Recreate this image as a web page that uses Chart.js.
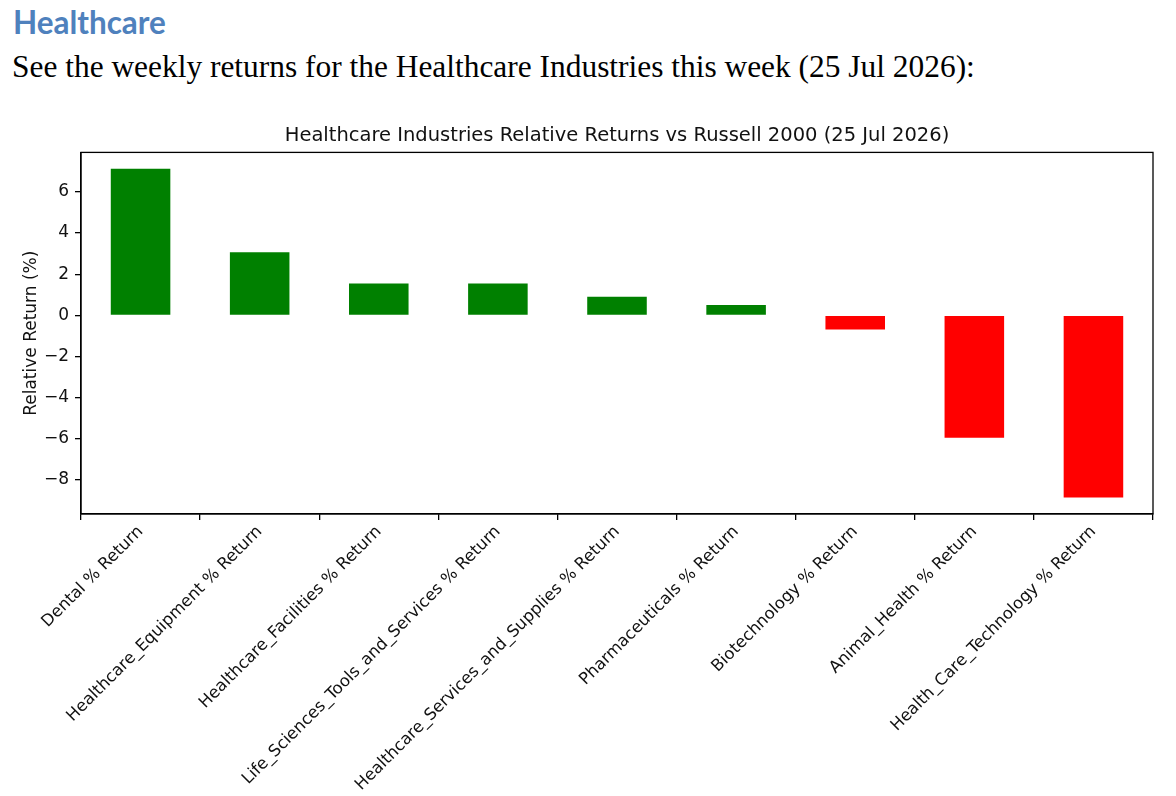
<!DOCTYPE html>
<html><head><meta charset="utf-8">
<script src="https://cdn.jsdelivr.net/npm/chart.js@4"></script>
<style>
html,body{margin:0;padding:0;background:#fff;width:1176px;height:796px;overflow:hidden;}
#h1{position:absolute;left:13px;top:7px;font-family:Lato;font-weight:bold;font-size:31px;line-height:1;color:#4f81bd;white-space:nowrap;}
#sub{position:absolute;left:12px;top:54px;font-family:'Liberation Serif';font-size:28px;line-height:1;color:#000;white-space:nowrap;}
#wrap{position:absolute;left:0;top:115px;width:1176px;height:681px;}
</style></head><body>
<div id="h1">Healthcare</div>
<div id="sub">See the weekly returns for the Healthcare Industries this week (25 Jul 2026):</div>
<div id="wrap"><canvas id="c"></canvas></div>
<script>
const categories = [
  "Dental % Return",
  "Healthcare_Equipment % Return",
  "Healthcare_Facilities % Return",
  "Life_Sciences_Tools_and_Services % Return",
  "Healthcare_Services_and_Supplies % Return",
  "Pharmaceuticals % Return",
  "Biotechnology % Return",
  "Animal_Health % Return",
  "Health_Care_Technology % Return"
];
const relativeReturns = [7.12, 3.07, 1.55, 1.55, 0.91, 0.50, -0.69, -5.94, -8.85];
const yTickValues = [6, 4, 2, 0, -2, -4, -6, -8];
const chartTitle = "Healthcare Industries Relative Returns vs Russell 2000 (25 Jul 2026)";
const yAxisTitle = "Relative Return (%)";

// fit header text widths
function fit(id, targetW, baseline, ascFactor) {
  const el = document.getElementById(id);
  const fs = parseFloat(getComputedStyle(el).fontSize);
  const w = el.getBoundingClientRect().width;
  const nfs = fs * targetW / w;
  el.style.fontSize = nfs + 'px';
  el.style.top = (baseline - ascFactor * nfs) + 'px';
}
fit('sub', 963, 77, 0.8375);
fit('h1', 153, 35, 0.887);

const frame = {
  id: 'frame',
  afterDraw(chart) {
    const a = chart.chartArea, ctx = chart.ctx;
    ctx.save();
    ctx.strokeStyle = '#000';
    ctx.lineWidth = 1.3;
    ctx.strokeRect(a.left, a.top, a.right - a.left, a.bottom - a.top);
    ctx.restore();
  }
};

new Chart(document.getElementById('c'), {
  type: 'bar',
  data: {
    labels: categories,
    datasets: [{
      data: relativeReturns,
      backgroundColor: relativeReturns.map(v => v >= 0 ? '#008000' : '#ff0000'),
      borderWidth: 0,
      categoryPercentage: 0.5,
      barPercentage: 1.0
    }]
  },
  options: {
    responsive: true,
    maintainAspectRatio: false,
    animation: false,
    layout: { padding: { left: 0, right: 23, top: 0, bottom: 0 } },
    plugins: {
      legend: { display: false },
      tooltip: { enabled: false },
      title: {
        display: true,
        fullSize: false,
        text: chartTitle,
        color: '#111',
        font: { family: 'DejaVu Sans', size: 19.5, weight: 'normal' },
        padding: { top: 9, bottom: 5 }
      }
    },
    scales: {
      x: {
        offset: true,
        grid: { display: true, drawOnChartArea: false, drawTicks: true, tickLength: 6, color: '#000', lineWidth: 1.3 },
        border: { display: true, color: '#000', width: 1.3 },
        ticks: {
          color: '#111',
          font: { family: 'DejaVu Sans', size: 16.5 },
          minRotation: 45, maxRotation: 45,
          autoSkip: false,
          padding: 2
        },
        afterFit(s) { s.height = 282; }
      },
      y: {
        min: -9.65, max: 7.92,
        grid: { display: true, drawOnChartArea: false, drawTicks: true, tickLength: 6, color: '#000', lineWidth: 1.3 },
        border: { display: true, color: '#000', width: 1.3 },
        afterBuildTicks(s) { s.ticks = yTickValues.map(v => ({ value: v })); },
        ticks: {
          color: '#111',
          font: { family: 'DejaVu Sans', size: 17 },
          padding: 6,
          callback: v => String(v).replace('-', '\u2212')
        },
        title: {
          display: true,
          text: yAxisTitle,
          color: '#111',
          font: { family: 'DejaVu Sans', size: 17 },
          padding: { top: 21, bottom: 0 }
        },
        afterFit(s) { s.width = 81; }
      }
    }
  },
  plugins: [frame]
});
</script>
</body></html>
